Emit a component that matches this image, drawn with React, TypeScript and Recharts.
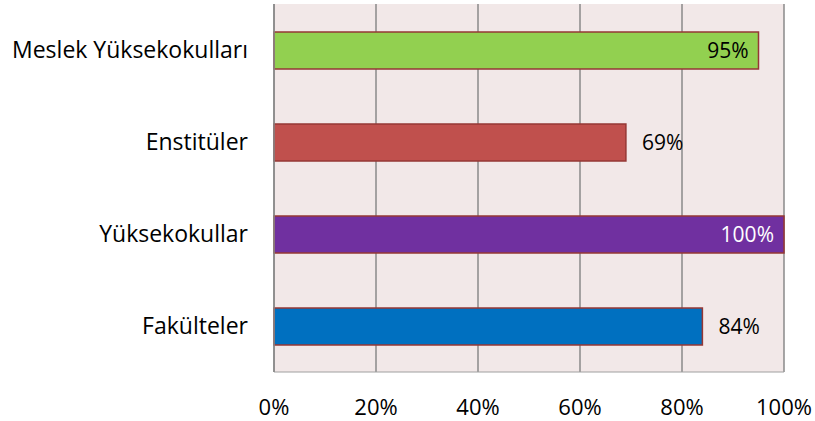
import { BarChart, Bar, XAxis, YAxis, CartesianGrid, Cell, LabelList } from 'recharts';

const categories = ['Meslek Yüksekokulları', 'Enstitüler', 'Yüksekokullar', 'Fakülteler'];
const values = [95, 69, 100, 84];
const xTicks = [0, 20, 40, 60, 80, 100];

const barColors = ['#92D050', '#C0504D', '#7030A0', '#0070C0'];
const labelColors = ['#000000', '#000000', '#FFFFFF', '#000000'];
const labelInside = [true, false, true, false];

const data = categories.map((name, i) => ({ name, value: values[i] }));

const FONT = '"Open Sans", sans-serif';

function BarLabel(props: any) {
  const { x, y, width, height, value, index } = props;
  const inside = labelInside[index];
  const tx = inside ? x + width - 10 : x + width + 16;
  return (
    <text
      x={tx}
      y={y + height / 2}
      dy="0.35em"
      textAnchor={inside ? 'end' : 'start'}
      fill={labelColors[index]}
      fontSize={21}
      fontFamily={FONT}
    >
      {`${value}%`}
    </text>
  );
}

export default function App() {
  return (
    <div style={{ position: 'absolute', left: 0, top: 0, width: 815, height: 421, background: '#fff' }}>
      <BarChart
        width={815}
        height={421}
        data={data}
        layout="vertical"
        margin={{ top: 4, right: 31, bottom: 0, left: 0 }}
      >
        <CartesianGrid horizontal={false} fill="#F2E8E8" stroke="#8A8A8A" strokeWidth={1.5} />
        <XAxis
          type="number"
          domain={[0, 100]}
          ticks={xTicks}
          tickFormatter={(v) => `${v}%`}
          height={49}
          axisLine={{ stroke: '#A0A0A0' }}
          tickLine={false}
          tickSize={0}
          tickMargin={27}
          tick={{ fill: '#000', fontSize: 22, fontFamily: FONT }}
        />
        <YAxis
          type="category"
          dataKey="name"
          width={274}
          axisLine={{ stroke: '#8A8A8A', strokeWidth: 1.5 }}
          tickLine={false}
          tickSize={0}
          tickMargin={26}
          tick={{ fill: '#000', fontSize: 23, fontFamily: FONT }}
        />
        <Bar dataKey="value" barSize={37} stroke="#953735" strokeWidth={1.5} isAnimationActive={false}>
          {data.map((d, i) => (
            <Cell key={d.name} fill={barColors[i]} />
          ))}
          <LabelList dataKey="value" content={<BarLabel />} />
        </Bar>
      </BarChart>
    </div>
  );
}
